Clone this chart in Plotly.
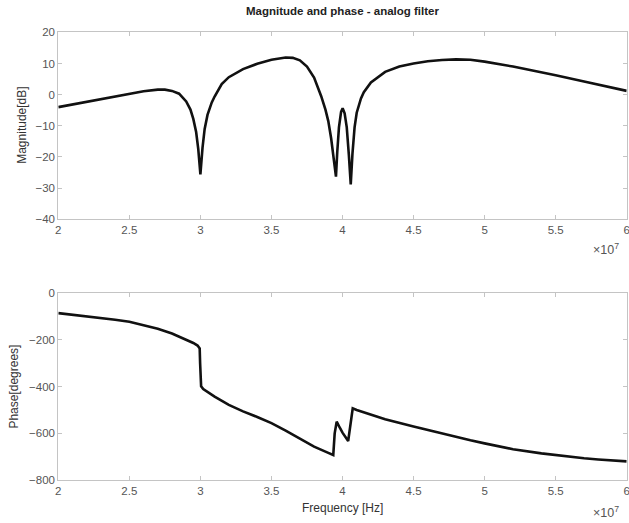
import plotly.graph_objects as go

# Frequency in units of 1e7 Hz
mag_freq = [2.0, 2.2, 2.4, 2.5, 2.6, 2.7, 2.75, 2.8, 2.85, 2.9, 2.93, 2.95, 2.97, 2.985, 3.0,
            3.015, 3.03, 3.05, 3.08, 3.1, 3.15, 3.2, 3.3, 3.4, 3.5, 3.6, 3.65, 3.7, 3.75,
            3.8, 3.85, 3.88, 3.9, 3.92, 3.935, 3.945, 3.954, 3.963, 3.975, 3.99, 4.001,
            4.015, 4.03, 4.045, 4.058, 4.07, 4.085, 4.1, 4.13, 4.15, 4.2, 4.3, 4.4, 4.5,
            4.6, 4.7, 4.8, 4.9, 5.0, 5.2, 5.4, 5.5, 5.7, 5.8, 6.0]
mag_db = [-4.0, -2.3, -0.5, 0.4, 1.1, 1.6, 1.6, 1.2, 0.3, -2.2, -4.8, -7.8, -12.0, -17.5, -25.6,
          -17.0, -11.0, -6.5, -2.5, -0.6, 3.4, 5.6, 8.2, 9.9, 11.2, 11.9, 11.8, 11.0, 9.0,
          5.5, -0.5, -4.8, -8.5, -14.0, -19.5, -23.5, -26.3, -18.5, -10.5, -5.5, -4.4,
          -6.0, -10.5, -19.5, -28.8, -19.0, -10.5, -5.8, -1.2, 0.8, 3.9, 7.3, 9.0, 10.0,
          10.7, 11.1, 11.3, 11.2, 10.6, 9.0, 7.2, 6.2, 4.2, 3.2, 1.2]

ph_freq = [2.0, 2.2, 2.4, 2.5, 2.6, 2.7, 2.8, 2.9, 2.95, 2.98, 2.995, 2.998, 3.0, 3.005, 3.02,
           3.05, 3.1, 3.2, 3.3, 3.4, 3.5, 3.6, 3.7, 3.8, 3.9, 3.935, 3.945, 3.959, 3.98, 4.0,
           4.04, 4.055, 4.072, 4.1, 4.2, 4.3, 4.5, 4.7, 4.9, 5.0, 5.2, 5.4, 5.5, 5.7, 5.8, 6.0]
ph_deg = [-85, -98, -113, -122, -136, -152, -172, -198, -213, -224, -236, -300, -375, -398, -410,
          -423, -443, -478, -506, -530, -556, -588, -622, -657, -684, -693, -600, -550, -575, -597,
          -633, -560, -493, -500, -521, -540, -571, -602, -630, -643, -668, -686, -694, -707, -712, -720]

x_ticks = [2, 2.5, 3, 3.5, 4, 4.5, 5, 5.5, 6]
x_tick_text = ["2", "2.5", "3", "3.5", "4", "4.5", "5", "5.5", "6"]
mag_ticks = [20, 10, 0, -10, -20, -30, -40]
ph_ticks = [0, -200, -400, -600, -800]

FONT = "Liberation Sans, Arial, Helvetica, sans-serif"
AX = "#c4c4c4"
TXT = "#555555"
H = 523.0
W = 629.0

fig = go.Figure()
fig.add_trace(go.Scatter(x=mag_freq, y=mag_db, mode="lines",
                         line=dict(color="#111111", width=2.6), xaxis="x", yaxis="y",
                         showlegend=False))
fig.add_trace(go.Scatter(x=ph_freq, y=ph_deg, mode="lines",
                         line=dict(color="#111111", width=2.6), xaxis="x2", yaxis="y2",
                         showlegend=False))

axis_common = dict(showgrid=False, zeroline=False, showline=True, linecolor=AX, linewidth=1,
                   mirror="ticks", ticks="inside", ticklen=4, tickcolor=AX, automargin=False,
                   ticklabeloverflow="allow",
                   tickfont=dict(family=FONT, size=11.5, color=TXT))

xd = [58.3 / W, 626.7 / W]
sup = "×10<sup>7</sup>"
fig.update_layout(
    width=629, height=523,
    margin=dict(l=0, r=0, t=0, b=0),
    paper_bgcolor="white", plot_bgcolor="white",
    xaxis=dict(domain=xd, range=[2, 6], tickvals=x_ticks, ticktext=x_tick_text,
               anchor="y", **axis_common),
    yaxis=dict(domain=[(H - 219.3) / H, (H - 32.3) / H], range=[-40, 20],
               tickvals=mag_ticks, anchor="x", **axis_common),
    xaxis2=dict(domain=xd, range=[2, 6], tickvals=x_ticks, ticktext=x_tick_text,
                anchor="y2", **axis_common),
    yaxis2=dict(domain=[(H - 480) / H, (H - 293.3) / H], range=[-800, 0],
                tickvals=ph_ticks, anchor="x2", **axis_common),
    annotations=[
        dict(text="<b>Magnitude and phase - analog filter</b>", x=(xd[0] + xd[1]) / 2,
             y=(H - 11) / H, xref="paper", yref="paper", showarrow=False,
             font=dict(family=FONT, size=11.5, color="#222222"), xanchor="center", yanchor="middle"),
        dict(text="Magnitude[dB]", x=22 / W, y=(H - 125.8) / H, xref="paper", yref="paper",
             showarrow=False, textangle=-90, font=dict(family=FONT, size=12, color="#333333"),
             xanchor="center", yanchor="middle"),
        dict(text="Phase[degrees]", x=14 / W, y=(H - 386.6) / H, xref="paper", yref="paper",
             showarrow=False, textangle=-90, font=dict(family=FONT, size=12, color="#333333"),
             xanchor="center", yanchor="middle"),
        dict(text="Frequency [Hz]", x=(xd[0] + xd[1]) / 2, y=(H - 508) / H, xref="paper",
             yref="paper", showarrow=False, font=dict(family=FONT, size=12, color="#333333"),
             xanchor="center", yanchor="middle"),
        dict(text=sup, x=621 / W, y=(H - 249) / H, xref="paper", yref="paper",
             showarrow=False, font=dict(family=FONT, size=12.5, color=TXT),
             xanchor="right", yanchor="middle"),
        dict(text=sup, x=621 / W, y=(H - 512) / H, xref="paper", yref="paper",
             showarrow=False, font=dict(family=FONT, size=12.5, color=TXT),
             xanchor="right", yanchor="middle"),
    ],
)

fig.write_html("out.html", config={"displayModeBar": False},
               post_script="document.body.style.margin='0';document.body.style.overflow='hidden';")
